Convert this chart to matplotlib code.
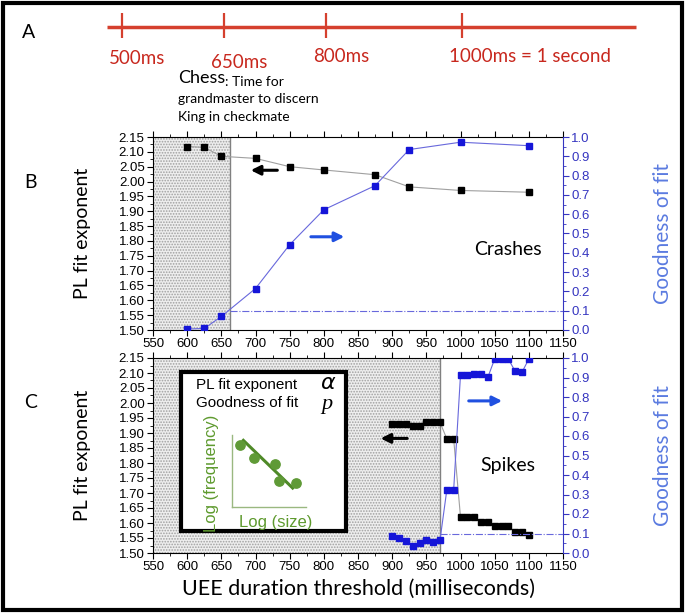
import numpy as np
import matplotlib
matplotlib.use("Agg")
import matplotlib.pyplot as plt
from matplotlib.patches import Rectangle
from matplotlib.ticker import MultipleLocator

plt.rcParams['font.family'] = ['Liberation Sans', 'DejaVu Sans']
plt.rcParams['hatch.linewidth'] = 0.8

# --- data ---------------------------------------------------------------
timeline_ms = [500, 650, 800, 1000]
timeline_labels = ['500ms', '650ms', '800ms', '1000ms = 1 second']

crash_x = [600, 625, 650, 700, 750, 800, 875, 925, 1000, 1100]
crash_alpha = [2.118, 2.115, 2.085, 2.078, 2.050, 2.039, 2.023, 1.982, 1.970, 1.964]
crash_p = [0.005, 0.008, 0.070, 0.215, 0.442, 0.623, 0.748, 0.935, 0.973, 0.955]
crash_cut = 662

spike_x = [900, 910, 920, 930, 940, 950, 960, 970, 980, 990, 1000,
           1010, 1020, 1030, 1040, 1050, 1060, 1070, 1080, 1090, 1100]
spike_alpha = [1.930, 1.930, 1.930, 1.922, 1.922, 1.936, 1.936, 1.936, 1.880, 1.880, 1.620,
               1.620, 1.620, 1.604, 1.604, 1.590, 1.590, 1.590, 1.569, 1.569, 1.560]
spike_p = [0.088, 0.077, 0.064, 0.034, 0.052, 0.066, 0.055, 0.066, 0.324, 0.324, 0.913,
           0.911, 0.917, 0.917, 0.901, 0.995, 0.995, 0.995, 0.932, 0.927, 0.995]
spike_cut = 970

p_threshold = 0.1

# schematic power-law inset (normalised coords)
demo_x = [0.108, 0.287, 0.578, 0.632, 0.865]
demo_y = [0.872, 0.679, 0.596, 0.367, 0.335]
demo_fit_x = [0.148, 0.821]
demo_fit_y = [0.931, 0.266]

BLUE = '#1515d8'
BLUE_LINE = '#6868dc'
BLUE_LABEL = '#5b7be0'
AX_BLUE = '#3535c0'
RED = '#c8281e'
GREEN = '#5e9a2e'
CAL = ['Lato', 'DejaVu Sans']

W, H = 685, 613
fig = plt.figure(figsize=(W / 100, H / 100), dpi=100)

# outer frame
fig.patches.append(Rectangle((3 / W, 3 / H), 1 - 6 / W, 1 - 6 / H, transform=fig.transFigure,
                             fill=False, ec='black', lw=3))

# --- A: timeline -------------------------------------------------------
ax_t = fig.add_axes([0, 1 - 135 / H, 1, 135 / H])
ax_t.set_xlim(500 - 122 / 0.68, 500 + (W - 122) / 0.68)
ax_t.set_ylim(135, 0)
ax_t.axis('off')
ax_t.plot([478, 1256], [27, 27], color='#d5402e', lw=2.5, solid_capstyle='butt')
ax_t.vlines(timeline_ms, 13, 38, color='#d5402e', lw=1.6)
label_y = [59, 63, 57, 57]
for ms, lab, ly in zip(timeline_ms, timeline_labels, label_y):
    ax_t.text(ms - 19, ly, lab, color=RED, fontsize=13.5, family=CAL, ha='left', va='center')

fig.text(22 / W, 1 - 32 / H, 'A', fontsize=14, family=CAL, va='center')
fig.text(24 / W, 1 - 182 / H, 'B', fontsize=14, family=CAL, va='center')
fig.text(24 / W, 1 - 403 / H, 'C', fontsize=14, family=CAL, va='center')

chess = fig.text(178 / W, 1 - 83 / H, 'Chess', fontsize=13, family=CAL, va='baseline')
ax_t.annotate(': Time for', xy=(1, 0), xycoords=chess, fontsize=10, family=CAL,
              va='baseline', ha='left')
fig.text(178 / W, 1 - 99 / H, 'grandmaster to discern', fontsize=10, family=CAL, va='center')
fig.text(178 / W, 1 - 117 / H, 'King in checkmate', fontsize=10, family=CAL, va='center')


def setup_panel(rect, cut):
    ax = fig.add_axes(rect)
    ax.set_xlim(550, 1150)
    ax.set_ylim(1.5, 2.15)
    ax.xaxis.set_major_locator(MultipleLocator(50))
    ax.xaxis.set_minor_locator(MultipleLocator(25))
    ax.yaxis.set_major_locator(MultipleLocator(0.05))
    ax.yaxis.set_minor_locator(MultipleLocator(0.025))
    ax.yaxis.set_major_formatter(plt.FormatStrFormatter('%.2f'))
    ax.tick_params(which='both', direction='out', labelsize=9.5, top=True, pad=2)
    ax.tick_params(which='major', length=4, width=0.8)
    ax.tick_params(which='minor', length=2, width=0.6)
    ax.set_ylabel('PL fit exponent', fontsize=14, family=CAL)
    ax.yaxis.set_label_coords(-0.151, 0.5)
    ax.axvspan(550, cut, facecolor='#eeeeee', hatch='......', edgecolor='#a0a0a0', lw=0, zorder=0)
    ax.axvline(cut, color='#808080', lw=1, zorder=1)
    for sp in ax.spines.values():
        sp.set_linewidth(0.8)
    ax.spines['right'].set_visible(False)

    ax2 = ax.twinx()
    ax2.set_ylim(0, 1)
    ax2.yaxis.set_major_locator(MultipleLocator(0.1))
    ax2.yaxis.set_minor_locator(MultipleLocator(0.05))
    ax2.yaxis.set_major_formatter(plt.FormatStrFormatter('%.1f'))
    ax2.tick_params(which='both', direction='out', colors=AX_BLUE, labelsize=9.5, pad=2)
    ax2.tick_params(which='major', length=4, width=0.8)
    ax2.tick_params(which='minor', length=2, width=0.6)
    ax2.spines['right'].set_color(AX_BLUE)
    ax2.spines['right'].set_linewidth(0.8)
    for s in ('left', 'top', 'bottom'):
        ax2.spines[s].set_visible(False)
    ax2.set_ylabel('Goodness of fit', fontsize=15, family=CAL, color=BLUE_LABEL)
    ax2.yaxis.set_label_coords(1.22, 0.5)
    ax2.plot([cut, 1150], [p_threshold, p_threshold], color=BLUE_LINE, lw=0.8, ls='-.')
    return ax, ax2


px_l, px_r = 153, 563
pw = (px_r - px_l) / W
ax_b, ax_b2 = setup_panel([px_l / W, 1 - 330 / H, pw, 193 / H], crash_cut)
ax_c, ax_c2 = setup_panel([px_l / W, 1 - 553 / H, pw, 195 / H], spike_cut)
ax_c.set_xlabel('UEE duration threshold (milliseconds)', fontsize=15.5, family=CAL, labelpad=4)

# --- B: crashes -------------------------------------------------------
ax_b.plot(crash_x, crash_alpha, color='#a0a0a0', lw=0.8, marker='s', ms=4,
          mfc='black', mec='black', zorder=3)
ax_b2.plot(crash_x, crash_p, color=BLUE_LINE, lw=0.8, marker='s', ms=4,
           mfc=BLUE, mec=BLUE, zorder=3)
ax_b.annotate('', xy=(689, 2.038), xytext=(736, 2.038),
              arrowprops=dict(arrowstyle='-|>', color='black', lw=2.2, mutation_scale=14))
ax_b2.annotate('', xy=(834, 0.483), xytext=(777, 0.483),
               arrowprops=dict(arrowstyle='-|>', color='#2050e0', lw=2.2, mutation_scale=14))
ax_b2.text(1070, 0.415, 'Crashes', fontsize=14, family=CAL, ha='center', va='center')

# --- C: spikes --------------------------------------------------------
ax_c.plot(spike_x, spike_alpha, color='#a0a0a0', lw=0.8, marker='s', ms=4,
          mfc='black', mec='black', zorder=3)
ax_c2.plot(spike_x, spike_p, color=BLUE_LINE, lw=0.8, marker='s', ms=4,
           mfc=BLUE, mec=BLUE, zorder=3)
ax_c.annotate('', xy=(879, 1.882), xytext=(926, 1.882),
              arrowprops=dict(arrowstyle='-|>', color='black', lw=2.2, mutation_scale=14))
ax_c2.annotate('', xy=(1065, 0.78), xytext=(1008, 0.78),
               arrowprops=dict(arrowstyle='-|>', color='#2050e0', lw=2.2, mutation_scale=14))
ax_c2.text(1070, 0.448, 'Spikes', fontsize=14, family=CAL, ha='center', va='center')

# inset legend box
ax_c.add_patch(Rectangle((591, 1.575), 832 - 591, 2.105 - 1.575, facecolor='white',
                         edgecolor='black', lw=3, zorder=4))
ax_c.text(613, 2.060, 'PL fit exponent', fontsize=11, va='center', zorder=5)
ax_c.text(613, 2.001, 'Goodness of fit', fontsize=11, va='center', zorder=5)
ax_c.text(795, 2.066, r'$\alpha$', fontsize=16, va='center', zorder=5)
ax_c.text(796, 1.996, 'p', fontsize=16, va='center', zorder=5, family='Liberation Serif',
          style='italic')
ax_c.text(636, 1.765, 'Log (frequency)', fontsize=12, color=GREEN, rotation=90,
          ha='center', va='center', zorder=5)
ax_c.text(730, 1.603, 'Log (size)', fontsize=12, color=GREEN, ha='center', va='center', zorder=5)

ax_d = ax_c.inset_axes([666.3, 1.653, 773.6 - 666.3, 1.892 - 1.653], transform=ax_c.transData,
                       zorder=6)
ax_d.set_xlim(0, 1)
ax_d.set_ylim(0, 1)
ax_d.patch.set_alpha(0)
ax_d.set_xticks([])
ax_d.set_yticks([])
for s in ('top', 'right'):
    ax_d.spines[s].set_visible(False)
for s in ('left', 'bottom'):
    ax_d.spines[s].set_color('#9ab880')
    ax_d.spines[s].set_linewidth(1)
ax_d.scatter(demo_x, demo_y, s=45, color='#5f9a36', zorder=3)
ax_d.plot(demo_fit_x, demo_fit_y, color='#4f8a28', lw=2.2)

fig.savefig('out.png', dpi=100)
